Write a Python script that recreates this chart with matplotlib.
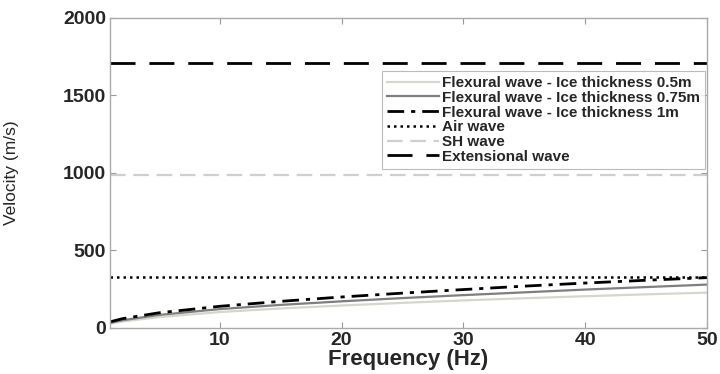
import numpy as np
import matplotlib
matplotlib.use('Agg')
import matplotlib.pyplot as plt

# values
freq = [1, 2, 5, 10, 15, 20, 25, 30, 35, 40, 45, 50]
flex_05 = [28, 42, 70, 103, 126, 145, 162, 178, 192, 205, 217, 228]
flex_075 = [33, 50, 84, 122, 149, 172, 193, 212, 230, 248, 264, 280]
flex_1 = [40, 60, 98, 140, 172, 200, 225, 248, 270, 290, 308, 325]
air_wave = 330
sh_wave = 990
ext_wave = 1710

labels = ['Flexural wave - Ice thickness 0.5m',
          'Flexural wave - Ice thickness 0.75m',
          'Flexural wave - Ice thickness 1m',
          'Air wave', 'SH wave', 'Extensional wave']

plt.rcParams['font.family'] = ['Liberation Sans', 'DejaVu Sans']

fig = plt.figure(figsize=(7.2, 3.74), dpi=100)
ax = fig.add_axes([0.153, 0.123, 0.829, 0.829])

ax.plot(freq, flex_05, color='#d6d6cc', lw=1.6, label=labels[0])
ax.plot(freq, flex_075, color='#7f7f7f', lw=1.6, label=labels[1])
ax.plot(freq, flex_1, color='black', lw=2.0, ls=(0, (6, 2.5, 1.5, 2.5)), label=labels[2])
ax.plot([1, 50], [air_wave, air_wave], color='black', lw=1.8, ls=(0, (1, 1.6)), label=labels[3])
ax.plot([1, 50], [sh_wave, sh_wave], color='#cfcfcf', lw=1.6, ls=(0, (7, 3.5)), label=labels[4])
ax.plot([1, 50], [ext_wave, ext_wave], color='black', lw=2.0, ls=(0, (9, 5)), label=labels[5])

ax.set_xlim(1, 50)
ax.set_ylim(0, 2000)
ax.set_xticks([10, 20, 30, 40, 50])
ax.set_yticks([0, 500, 1000, 1500, 2000])
ax.tick_params(direction='in', top=True, right=True, length=4, width=0.8,
               color='#999999', labelsize=14, pad=3)
for t in ax.get_xticklabels() + ax.get_yticklabels():
    t.set_fontweight('bold')
    t.set_color('#262626')
for s in ax.spines.values():
    s.set_color('#aaaaaa')
    s.set_linewidth(1.0)

ax.set_xlabel('Frequency (Hz)', fontsize=16, fontweight='bold', color='#262626', labelpad=0)
ax.set_ylabel('Velocity (m/s)', fontsize=12.5, color='#262626')
ax.yaxis.set_label_coords(-0.152, 0.5)

leg = ax.legend(loc='upper right', bbox_to_anchor=(0.997, 0.83),
                prop={'weight': 'bold', 'size': 11}, frameon=True, fancybox=False,
                handlelength=3.4, handletextpad=0.2, labelspacing=0.05,
                borderpad=0.35, borderaxespad=0.0)
leg.get_frame().set_edgecolor('#aaaaaa')
leg.get_frame().set_linewidth(0.8)
for t in leg.get_texts():
    t.set_color('#262626')

fig.savefig('out.png', dpi=100)
